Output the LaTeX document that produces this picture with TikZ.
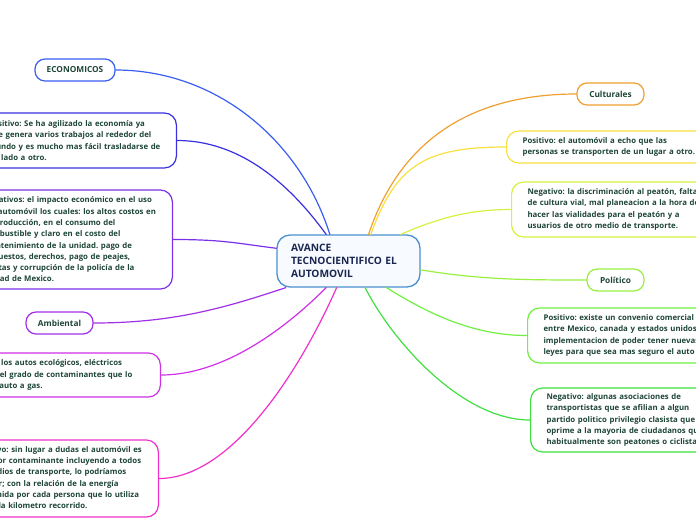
\documentclass[tikz,border=0pt]{standalone}
\usepackage{fontspec}
\setmainfont{Open Sans}
\frenchspacing
\usetikzlibrary{positioning,calc}
\definecolor{txt}{HTML}{1E4636}
\definecolor{hubtxt}{HTML}{1A2650}
\definecolor{cHub}{HTML}{4A90D0}
\definecolor{cHubFill}{HTML}{F7FBFF}
\definecolor{cEcon}{HTML}{3A5EF0}
\definecolor{cEconPos}{HTML}{3A30E0}
\definecolor{cEconNeg}{HTML}{7A30E8}
\definecolor{cAmb}{HTML}{A030E8}
\definecolor{cAmbPos}{HTML}{D030E8}
\definecolor{cAmbNeg}{HTML}{F030C8}
\definecolor{cCult}{HTML}{F0A030}
\definecolor{cCultPos}{HTML}{F8E040}
\definecolor{cCultNeg}{HTML}{D8F040}
\definecolor{cPol}{HTML}{98F040}
\definecolor{cPolPos}{HTML}{70F040}
\definecolor{cPolNeg}{HTML}{40E040}

\begin{document}
\begin{tikzpicture}[x=1pt, y=-1pt, line cap=round,
   hub/.style={draw=cHub, line width=1.3pt, rounded corners=13pt, fill=cHubFill, text=hubtxt,
     font=\fontsize{10.2}{13}\selectfont\bfseries, align=left, text width=115pt, inner xsep=14pt,
     minimum width=143pt, minimum height=52pt},
   leaf/.style={draw=#1, line width=1.2pt, rounded corners=12pt, fill=white, text=txt,
     font=\fontsize{7.8}{11.3}\selectfont\bfseries, align=left, inner xsep=16pt, inner ysep=3pt},
   tag/.style={draw=#1, line width=1.2pt, rounded corners=10pt, fill=white, text=txt,
     font=\fontsize{8.3}{10}\selectfont\bfseries, minimum height=22pt, inner sep=0pt},
   link/.style={draw=#1, line width=1.2pt}]
  \useasboundingbox (0,0) rectangle (696,520);
  \clip (0,0) rectangle (696,520);

  % centro
  \node[hub] (hub) at (348.5,261) {AVANCE\\ TECNOCIENTIFICO EL\\ AUTOMOVIL};

  % lado izquierdo
  \node[tag=cEcon, minimum width=80pt] (econ) at (75,70) {ECONOMICOS};
  \node[leaf=cEconPos, inner xsep=10pt, text width=178pt, minimum height=55pt, anchor=east] (econpos) at (177,140.5)
    {Positivo: Se ha agilizado la economía ya\\ que genera varios trabajos al rededor del\\ mundo y es mucho mas fácil trasladarse de\\ un lado a otro.};
  \node[leaf=cEconNeg, inner xsep=12pt, text width=177pt, minimum height=99pt, anchor=east] (econneg) at (173,239.5)
    {Negativos: el impacto económico en el uso\\ del automóvil los cuales: los altos costos en\\ su producción, en el consumo del\\ combustible y claro en el costo del\\ mantenimiento de la unidad. pago de\\ impuestos, derechos, pago de peajes,\\ multas y corrupción de la policía de la\\ ciudad de Mexico.};
  \node[tag=cAmb, minimum width=67pt] (amb) at (59.5,323) {Ambiental};
  \node[leaf=cAmbPos, inner xsep=14pt, text width=181pt, minimum height=44pt, anchor=east] (ambpos) at (161,375)
    {Positivo: los autos ecológicos, eléctricos\\ reducen el grado de contaminantes que lo\\ hace un auto a gas.};
  \node[leaf=cAmbNeg, inner xsep=14pt, text width=173pt, minimum height=77pt, anchor=east] (ambneg) at (159,478.5)
    {Negativo: sin lugar a dudas el automóvil es\\ el mayor contaminante incluyendo a todos\\ los medios de transporte, lo podríamos\\ calcular; con la relación de la energía\\ consumida por cada persona que lo utiliza\\ por cada kilometro recorrido.};

  % lado derecho
  \node[tag=cCult, minimum width=67pt] (cult) at (610.5,94) {Culturales};
  \node[leaf=cCultPos, text width=220pt, minimum height=32pt, anchor=west] (cultpos) at (506,147)
    {Positivo: el automóvil a echo que las\\ personas se transporten de un lugar a otro.};
  \node[leaf=cCultNeg, text width=220pt, minimum height=55pt, anchor=west] (cultneg) at (511,209.5)
    {Negativo: la discriminación al peatón, falta\\ de cultura vial, mal planeacion a la hora de\\ hacer las vialidades para el peatón y a\\ usuarios de otro medio de transporte.};
  \node[tag=cPol, minimum width=57pt] (pol) at (615.5,280) {Político};
  \node[leaf=cPolPos, text width=220pt, minimum height=55pt, anchor=west] (polpos) at (527,335.5)
    {Positivo: existe un convenio comercial\\ entre Mexico, canada y estados unidos\\ implementacion de poder tener nuevas\\ leyes para que sea mas seguro el auto};
  \node[leaf=cPolNeg, text width=220pt, minimum height=64pt, anchor=west] (polneg) at (530,420)
    {Negativo: algunas asociaciones de\\ transportistas que se afilian a algun\\ partido politico privilegio clasista que\\ oprime a la mayoria de ciudadanos que\\ habitualmente son peatones o ciclistas};

  % conexiones
  \draw[link=cEcon] (econ.east) .. controls +(100,0) and +(-30,-95) .. (hub.125);
  \draw[link=cEconPos] (econpos.east) .. controls +(60,0) and +(-40,-55) .. (hub.130);
  \draw[link=cEconNeg] (econneg.east) .. controls +(50,0) and +(-40,-5) .. (hub.170);
  \draw[link=cAmb] (amb.east) .. controls +(80,0) and +(-60,20) .. (hub.203);
  \draw[link=cAmbPos] (ambpos.east) .. controls +(60,0) and +(-45,45) .. (hub.230);
  \draw[link=cAmbNeg] (ambneg.east) .. controls +(70,0) and +(-40,90) .. (hub.246);
  \draw[link=cCult] (cult.west) .. controls +(-110,0) and +(30,-90) .. (hub.53);
  \draw[link=cCultPos] (cultpos.west) .. controls +(-80,0) and +(25,-70) .. (hub.50);
  \draw[link=cCultNeg] (cultneg.west) .. controls +(-45,0) and +(35,-15) .. (hub.27);
  \draw[link=cPol] (pol.west) .. controls +(-60,0) and +(60,10) .. (hub.353);
  \draw[link=cPolPos] (polpos.west) .. controls +(-55,0) and +(40,25) .. (hub.325);
  \draw[link=cPolNeg] (polneg.west) .. controls +(-70,0) and +(25,50) .. (hub.302);
\end{tikzpicture}
\end{document}
